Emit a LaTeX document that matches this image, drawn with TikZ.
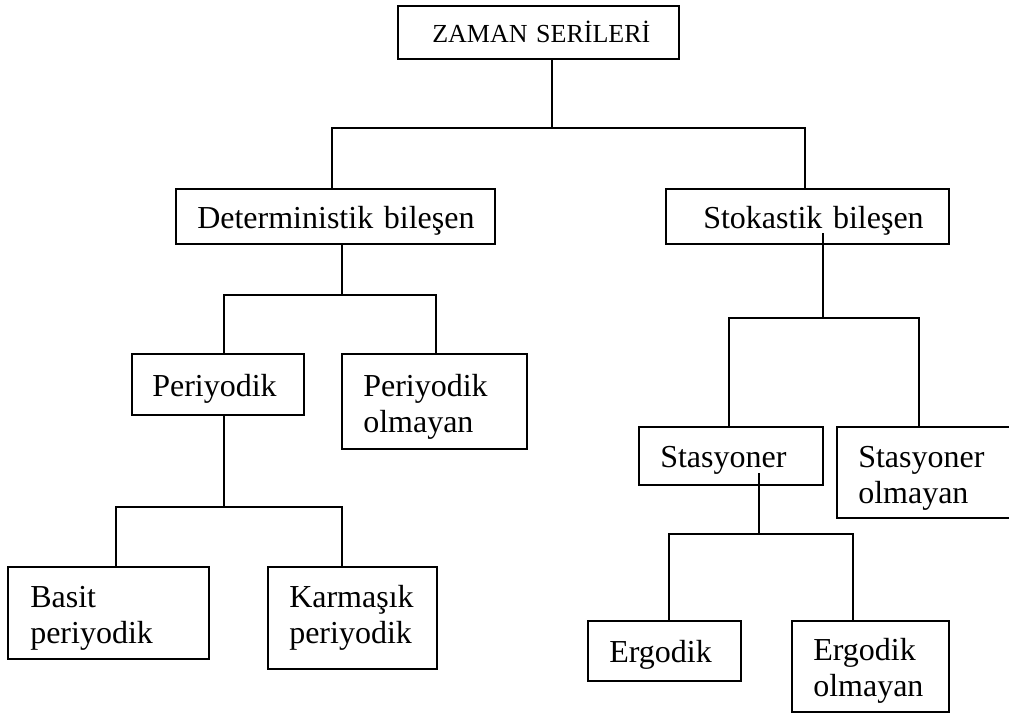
\documentclass[tikz,border=0pt]{standalone}
\usepackage{fontspec}
\setmainfont{Liberation Serif}
\usetikzlibrary{calc}
\tikzset{
  box/.style={draw, line width=1.3pt, rectangle, inner sep=0pt, outer sep=0pt, anchor=north west},
  txt/.style={inner sep=0pt, anchor=base west, align=left, text width=400pt,
    font=\fontsize{24pt}{27pt}\selectfont},
  conn/.style={line width=1.3pt}
}
% name, x1, y1, x2, y2, dx, dy, text
\newcommand{\tbox}[8]{%
  \node[box, minimum width={(#4-#2)*0.75pt}, minimum height={(#5-#3)*0.75pt}] (#1) at (#2,#3) {};
  \node[txt] (#1-t) at ($(#1.north west)+(#6,#7)$) {#8};}
\begin{document}
\begin{tikzpicture}[x=0.75pt, y=-0.75pt]
\clip (0,0) rectangle (1009,714);
\fill[white] (0,0) rectangle (1009,714);

% boxes
\node[box, minimum width={(679-398)*0.75pt}, minimum height={(59-6)*0.75pt}] (zaman) at (398,6) {};
\node[txt, font=\fontsize{19.5pt}{22pt}\selectfont] (zaman-t) at ($(zaman.north west)+(34,36)$) {ZAMAN SERİLERİ};
\tbox{det}{176}{189}{495}{244}{21}{39}{Deterministik bileşen}
\tbox{stok}{666}{189}{949}{244}{37}{39}{Stokastik bileşen}
\tbox{per}{132}{354}{304}{415}{20}{42}{Periyodik}
\tbox{pero}{342}{354}{527}{449}{21}{42}{Periyodik\\olmayan}
\tbox{basit}{8}{567}{209}{659}{22}{40}{Basit\\periyodik}
\tbox{karm}{268}{567}{437}{669}{21}{40}{Karmaşık\\periyodik}
\tbox{stas}{639}{427}{823}{485}{21}{40}{Stasyoner}
\tbox{staso}{837}{427}{1030}{518}{21}{40}{Stasyoner\\olmayan}
\tbox{erg}{588}{621}{741}{681}{21}{41}{Ergodik}
\tbox{ergo}{792}{621}{949}{712}{21}{39}{Ergodik\\olmayan}

% junction coordinates
\coordinate (j0) at (552,128);
\coordinate (a1) at (332,128);
\coordinate (a2) at (805,128);
\coordinate (d0) at (342,295);
\coordinate (d1) at (224,295);
\coordinate (d2) at (436,295);
\coordinate (s0) at (823,318);
\coordinate (s1) at (729,318);
\coordinate (s2) at (919,318);
\coordinate (sin) at (823,233);
\coordinate (p0) at (224,507);
\coordinate (p1) at (116,507);
\coordinate (p2) at (342,507);
\coordinate (t0) at (759,534);
\coordinate (t1) at (669,534);
\coordinate (t2) at (853,534);
\coordinate (tin) at (759,473);

% connectors
\draw[conn] (zaman.south -| j0) -- (j0);
\draw[conn] (det.north -| a1) -- (a1) -- (a2) -- (stok.north -| a2);

\draw[conn] (det.south -| d0) -- (d0);
\draw[conn] (per.north -| d1) -- (d1) -- (d2) -- (pero.north -| d2);

\draw[conn] (sin) -- (s0);
\draw[conn] (stas.north -| s1) -- (s1) -- (s2) -- (staso.north -| s2);

\draw[conn] (per.south -| p0) -- (p0);
\draw[conn] (basit.north -| p1) -- (p1) -- (p2) -- (karm.north -| p2);

\draw[conn] (tin) -- (t0);
\draw[conn] (erg.north -| t1) -- (t1) -- (t2) -- (ergo.north -| t2);
\end{tikzpicture}
\end{document}
